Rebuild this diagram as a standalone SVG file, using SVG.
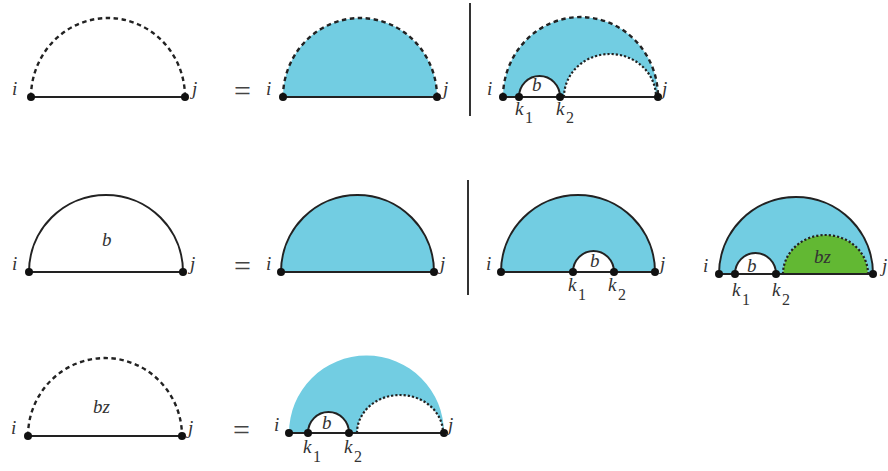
<svg xmlns="http://www.w3.org/2000/svg" width="888" height="471" viewBox="0 0 888 471" font-family="Liberation Serif, DejaVu Serif, serif">
<style>
  .lbl{font-style:italic;font-size:19px;fill:#333}
  .sub{font-style:normal;font-size:16px;fill:#333}
  .eq{font-size:30px;fill:#444}
  .base{stroke:#222;stroke-width:2;fill:none}
  .solid{stroke:#222;stroke-width:2;fill:none}
  .dash{stroke:#222;stroke-width:2.4;fill:none;stroke-dasharray:4.5 3.5}
  .dot{stroke:#222;stroke-width:2.2;fill:none;stroke-dasharray:2.2 2}
  .blue{fill:#72cde2;stroke:none}
  .green{fill:#62b833;stroke:none}
  .bar{stroke:#333;stroke-width:2}
  circle{fill:#111}
</style>
<rect width="888" height="471" fill="#fff"/>

<g id="r1d1">
  <path class="dash" d="M31,97 A77,79 0 0 1 185,97"/>
  <line class="base" x1="31" y1="97" x2="185" y2="97"/>
  <circle cx="31" cy="97" r="4"/><circle cx="185" cy="97" r="4"/>
  <text class="lbl" x="12" y="95">i</text>
  <text class="lbl" x="192" y="95">j</text>
</g>

<g id="r1d2">
  <text class="eq" x="234" y="101">=</text>
  <path class="blue" d="M283,97 A77,79 0 0 1 437,97 Z"/>
  <path class="dash" d="M283,97 A77,79 0 0 1 437,97"/>
  <line class="base" x1="283" y1="97" x2="437" y2="97"/>
  <circle cx="283" cy="97" r="4"/><circle cx="437" cy="97" r="4"/>
  <text class="lbl" x="266" y="95">i</text>
  <text class="lbl" x="443" y="95">j</text>
</g>

<line id="sep1" class="bar" x1="470" y1="3" x2="470" y2="116"/>

<g id="r1d3">
  <path class="blue" d="M503,97 A77.5,80 0 0 1 658,97 L656,97 A46,43 0 0 0 564,97 L560,97 A20.5,21 0 0 0 519,97 Z"/>
  <path class="dash" d="M503,97 A77.5,80 0 0 1 658,97"/>
  <path class="dot" d="M564,97 A46,43 0 0 1 656,97"/>
  <path class="solid" d="M519,97 A20.5,21 0 0 1 560,97"/>
  <line class="base" x1="503" y1="97" x2="658" y2="97"/>
  <circle cx="503" cy="97" r="4"/><circle cx="519" cy="97" r="4"/><circle cx="560" cy="97" r="4"/><circle cx="658" cy="97" r="4"/>
  <text class="lbl" x="487" y="95">i</text>
  <text class="lbl" x="662" y="95">j</text>
  <text class="lbl" x="532" y="91">b</text>
  <text class="lbl" x="515" y="115">k</text><text class="sub" x="525" y="123">1</text>
  <text class="lbl" x="556" y="115">k</text><text class="sub" x="566" y="123">2</text>
</g>

<g id="r2d1">
  <path class="solid" d="M29,272 A77,77 0 0 1 183,272"/>
  <line class="base" x1="29" y1="272" x2="183" y2="272"/>
  <circle cx="29" cy="272" r="4"/><circle cx="183" cy="272" r="4"/>
  <text class="lbl" x="12" y="270">i</text>
  <text class="lbl" x="190" y="270">j</text>
  <text class="lbl" x="102" y="246">b</text>
</g>

<g id="r2d2">
  <text class="eq" x="234" y="276">=</text>
  <path class="blue" d="M281,272 A76.5,77 0 0 1 434,272 Z"/>
  <path class="solid" d="M281,272 A76.5,77 0 0 1 434,272"/>
  <line class="base" x1="281" y1="272" x2="434" y2="272"/>
  <circle cx="281" cy="272" r="4"/><circle cx="434" cy="272" r="4"/>
  <text class="lbl" x="266" y="270">i</text>
  <text class="lbl" x="440" y="270">j</text>
</g>

<line id="sep2" class="bar" x1="468" y1="180" x2="468" y2="295"/>

<g id="r2d3">
  <path class="blue" d="M501,272 A77,77 0 0 1 655,272 L614,272 A20.5,21 0 0 0 573,272 Z"/>
  <path class="solid" d="M501,272 A77,77 0 0 1 655,272"/>
  <path class="solid" d="M573,272 A20.5,21 0 0 1 614,272"/>
  <line class="base" x1="501" y1="272" x2="655" y2="272"/>
  <circle cx="501" cy="272" r="4"/><circle cx="573" cy="272" r="4"/><circle cx="614" cy="272" r="4"/><circle cx="655" cy="272" r="4"/>
  <text class="lbl" x="486" y="270">i</text>
  <text class="lbl" x="660" y="270">j</text>
  <text class="lbl" x="590" y="267">b</text>
  <text class="lbl" x="568" y="291">k</text><text class="sub" x="578" y="300">1</text>
  <text class="lbl" x="608" y="291">k</text><text class="sub" x="618" y="300">2</text>
</g>

<g id="r2d4">
  <path class="blue" d="M719,274 A77,77 0 0 1 873,274 L868,274 A42.5,39 0 0 0 783,274 L776,274 A20.5,21 0 0 0 735,274 Z"/>
  <path class="green" d="M783,274 A42.5,39 0 0 1 868,274 Z"/>
  <path class="solid" d="M719,274 A77,77 0 0 1 873,274"/>
  <path class="solid" d="M735,274 A20.5,21 0 0 1 776,274"/>
  <path class="dot" d="M783,274 A42.5,39 0 0 1 868,274"/>
  <line class="base" x1="719" y1="274" x2="873" y2="274"/>
  <circle cx="719" cy="274" r="4"/><circle cx="735" cy="274" r="4"/><circle cx="776" cy="274" r="4"/><circle cx="873" cy="274" r="4"/>
  <text class="lbl" x="703" y="272">i</text>
  <text class="lbl" x="882" y="272">j</text>
  <text class="lbl" x="747" y="272">b</text>
  <text class="lbl" x="814" y="263">bz</text>
  <text class="lbl" x="732" y="296">k</text><text class="sub" x="742" y="305">1</text>
  <text class="lbl" x="772" y="296">k</text><text class="sub" x="782" y="305">2</text>
</g>

<g id="r3d1">
  <path class="dash" d="M28,436 A77,78 0 0 1 182,436"/>
  <line class="base" x1="28" y1="436" x2="182" y2="436"/>
  <circle cx="28" cy="436" r="4"/><circle cx="182" cy="436" r="4"/>
  <text class="lbl" x="11" y="434">i</text>
  <text class="lbl" x="188" y="434">j</text>
  <text class="lbl" x="93" y="413">bz</text>
</g>

<g id="r3d2">
  <text class="eq" x="233" y="440">=</text>
  <path class="blue" d="M289,433 A77.5,77.5 0 0 1 444,433 L443,433 A43,38 0 0 0 357,433 L349,433 A20.5,21 0 0 0 308,433 Z"/>
  <path class="solid" d="M308,433 A20.5,21 0 0 1 349,433"/>
  <path class="dot" d="M357,433 A43,38 0 0 1 443,433"/>
  <line class="base" x1="289" y1="433" x2="444" y2="433"/>
  <circle cx="289" cy="433" r="4"/><circle cx="308" cy="433" r="4"/><circle cx="349" cy="433" r="4"/><circle cx="444" cy="433" r="4"/>
  <text class="lbl" x="274" y="431">i</text>
  <text class="lbl" x="448" y="431">j</text>
  <text class="lbl" x="322" y="429">b</text>
  <text class="lbl" x="303" y="453">k</text><text class="sub" x="313" y="462">1</text>
  <text class="lbl" x="344" y="453">k</text><text class="sub" x="354" y="462">2</text>
</g>
</svg>
